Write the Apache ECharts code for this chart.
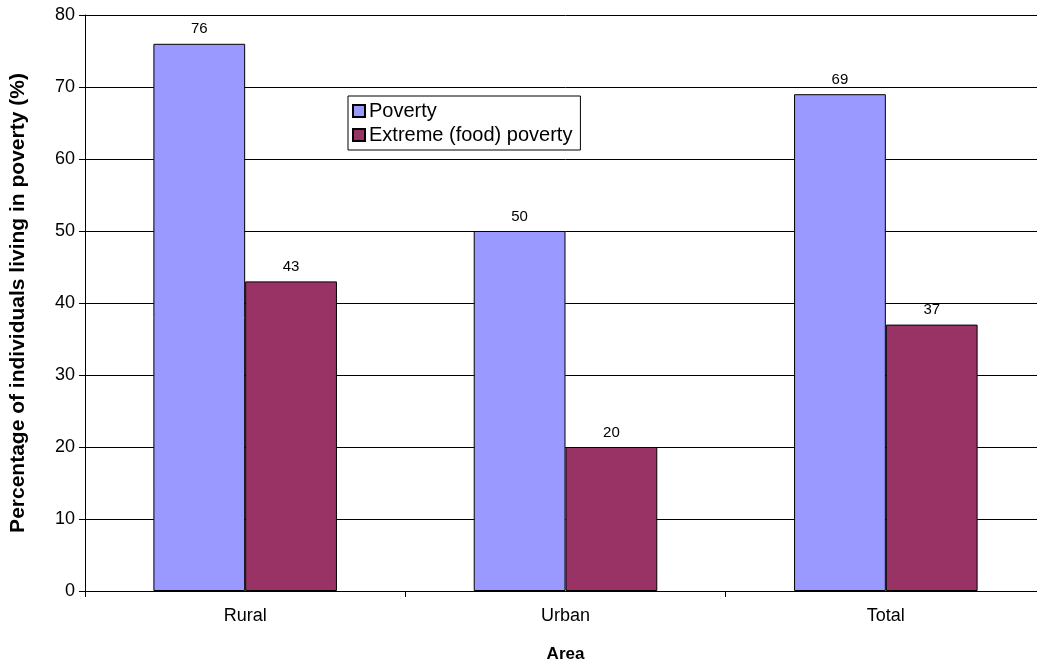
<!DOCTYPE html>
<html>
<head>
<meta charset="utf-8">
<script src="https://cdn.jsdelivr.net/npm/echarts@6/dist/echarts.min.js"></script>
<style>
  html, body { margin: 0; padding: 0; background: #fff; }
  #wrap { width: 1037px; height: 668px; overflow: hidden; position: relative; }
  /* plot runs past the right edge of the picture, so the canvas is wider and clipped */
  #main { width: 1056px; height: 668px; position: absolute; left: 0; top: 0; }
</style>
</head>
<body>
<div id="wrap"><div id="main"></div></div>
<script>
var areas = ['Rural', 'Urban', 'Total'];
var poverty = [76, 50, 69];
var extremePoverty = [43, 20, 37];
var yTicks = [0, 10, 20, 30, 40, 50, 60, 70, 80];

var chart = echarts.init(document.getElementById('main'));
var labelStyle = {
    show: true,
    position: 'top',
    distance: 7,
    color: '#000',
    fontSize: 15,
    fontFamily: 'Liberation Sans, Arial, sans-serif'
};
var option = {
    animation: false,
    textStyle: { fontFamily: 'Liberation Sans, Arial, sans-serif' },
    grid: { left: 82, top: 15, width: 964, height: 581 },
    legend: {
        orient: 'vertical',
        left: 348,
        top: 96,
        padding: [5, 8, 5, 4],
        itemGap: 4,
        itemWidth: 12,
        itemHeight: 12,
        borderColor: '#000',
        borderWidth: 1,
        backgroundColor: '#fff',
        textStyle: { fontSize: 20, color: '#000', padding: [0, 0, 0, -1] },
        data: [
            { name: 'Poverty', icon: 'rect' },
            { name: 'Extreme (food) poverty', icon: 'rect' }
        ]
    },
    xAxis: {
        type: 'category',
        data: areas,
        name: 'Area',
        nameLocation: 'middle',
        nameGap: 55,
        nameTextStyle: { fontSize: 17, fontWeight: 'bold', color: '#000' },
        axisLine: { lineStyle: { color: '#000', width: 1 } },
        axisTick: { show: true, length: 6, lineStyle: { color: '#000' } },
        axisLabel: { fontSize: 18, color: '#000', margin: 16 }
    },
    yAxis: {
        type: 'value',
        min: yTicks[0],
        max: yTicks[yTicks.length - 1],
        interval: 10,
        name: 'Percentage of individuals living in poverty (%)',
        nameLocation: 'middle',
        nameGap: 56,
        nameTextStyle: { fontSize: 21, fontWeight: 'bold', color: '#000' },
        axisLine: { show: true, lineStyle: { color: '#000', width: 1 } },
        axisTick: { show: true, length: 6, lineStyle: { color: '#000' } },
        axisLabel: { fontSize: 18, color: '#000', margin: 10 },
        splitLine: { show: true, lineStyle: { color: '#000', width: 1 } }
    },
    series: [{
        name: 'Poverty',
        type: 'bar',
        data: poverty,
        barGap: '0%',
        barCategoryGap: '42.7%',
        itemStyle: { color: '#9999FF', borderColor: '#000', borderWidth: 1 },
        label: labelStyle
    }, {
        name: 'Extreme (food) poverty',
        type: 'bar',
        data: extremePoverty,
        barGap: '0%',
        barCategoryGap: '42.7%',
        itemStyle: { color: '#993366', borderColor: '#000', borderWidth: 1 },
        label: labelStyle
    }]
};
chart.setOption(option);
</script>
</body>
</html>
